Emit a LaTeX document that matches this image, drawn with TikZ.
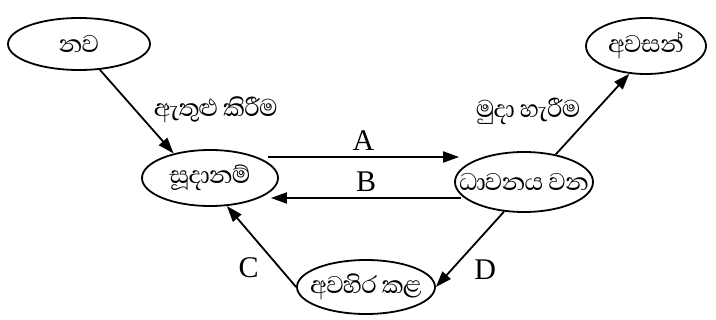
\documentclass[tikz,border=0pt]{standalone}
\usepackage{fontspec}
\setmainfont{Liberation Serif}
\newfontfamily\sinhala[Script=Sinhala, LetterSpace=-3]{Abhaya Libre}
\usetikzlibrary{arrows.meta, shapes.geometric, calc}

\begin{document}
\begin{tikzpicture}[
  x=0.5pt, y=-0.5pt,
  state/.style={draw, ellipse, line width=0.9pt, inner sep=0pt},
  stxt/.style={font=\sinhala\fontsize{15.5}{18}\selectfont, inner sep=0pt},
  arr/.style={-{Triangle[length=8pt, width=5.5pt]}, line width=0.9pt},
  lbl/.style={font=\fontsize{15}{18}\selectfont, inner sep=0pt},
  slbl/.style={font=\sinhala\fontsize{15.5}{18}\selectfont, inner sep=0pt},
]
\useasboundingbox (0,0) rectangle (716,320);

% nw: new
\node[state, minimum width=71pt, minimum height=26pt,
      label={[stxt]center:නව}] (nw) at (79,44) {};

% rdy: ready
\node[state, minimum width=68pt, minimum height=28pt,
      label={[stxt]center:සූදානම්}] (rdy) at (210,178) {};

% run: running
\node[state, minimum width=69pt, minimum height=30pt,
      label={[stxt]center:ධාවනය වන}] (run) at (524,182) {};

% trm: terminated
\node[state, minimum width=60pt, minimum height=28pt,
      label={[stxt]center:අවසන්}] (trm) at (646,46) {};

% blk: blocked
\node[state, minimum width=69pt, minimum height=27pt,
      label={[stxt]center:අවහිර කළ}] (blk) at (366,287) {};

% transitions
\draw[arr] (nw.-51) -- node[slbl, pos=0.475, right=9pt] {ඇතුළු කිරීම} (rdy.146);
\draw[arr] (run.41) -- node[slbl, pos=0.54, left=7pt] {මුදා හැරීම} (trm.-121);
\draw[arr] ($(rdy.east)+(-11,-21)$) -- node[lbl, above=3pt] {A} ($(run.west)+(5,-25)$);
\draw[arr] ($(run.west)+(7,16)$) -- node[lbl, above=3pt] {B} ($(rdy.east)+(-8,20)$);
\draw[arr] (blk.west) -- node[lbl, pos=0.24, left=10pt] {C} (rdy.-59);
\draw[arr] (run.-124) -- node[lbl, pos=0.77, right=11pt] {D} (blk.east);

\end{tikzpicture}
\end{document}
